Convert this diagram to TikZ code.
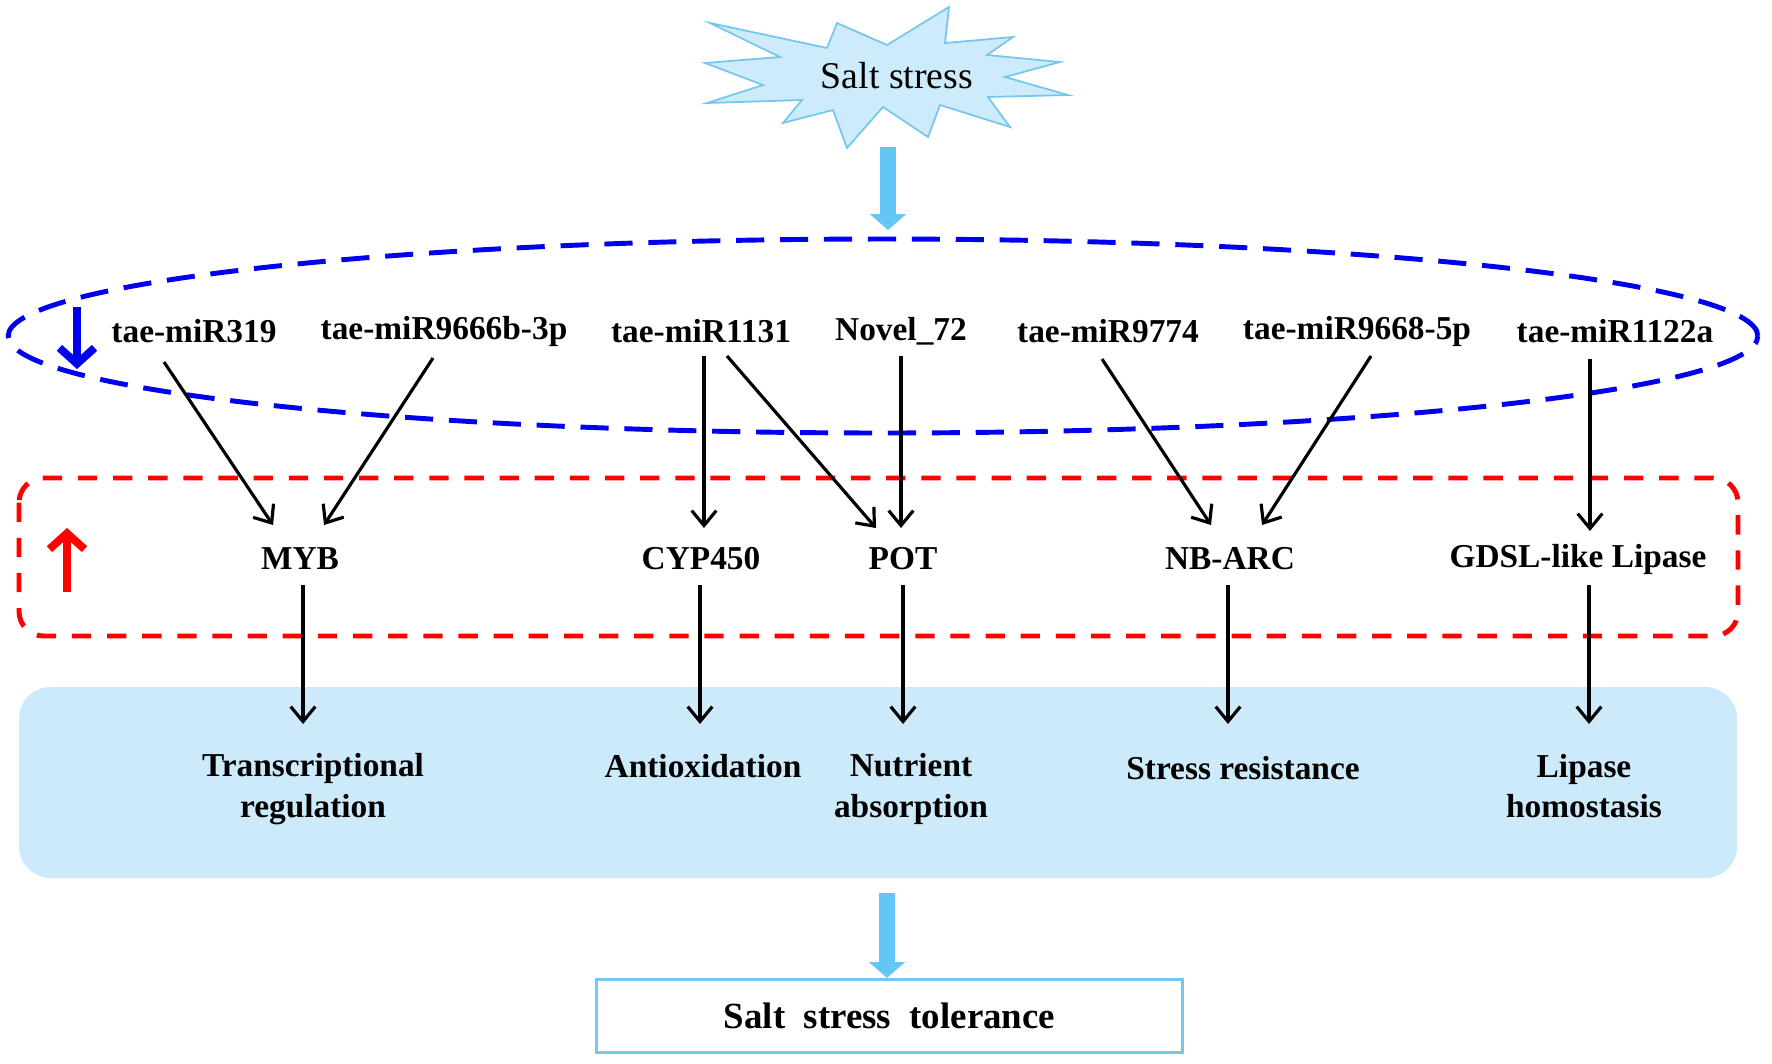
\documentclass[tikz,border=0pt]{standalone}
\usepackage{fontspec}
\setmainfont{Liberation Serif}
\usetikzlibrary{arrows.meta,calc}
\definecolor{starfill}{HTML}{CDEBFA}
\definecolor{starline}{HTML}{74C8F0}
\definecolor{bigarrow}{HTML}{63C6F6}
\definecolor{panelc}{HTML}{CCEAF9}
\definecolor{dblue}{HTML}{0000F0}
\definecolor{dred}{HTML}{FF0000}
\begin{document}
\begin{tikzpicture}[x=0.02cm,y=-0.02cm,
 lbl/.style={font=\fontsize{19}{22}\selectfont\bfseries, inner sep=0pt},
 fn/.style={font=\fontsize{19}{23}\selectfont\bfseries, align=center, inner sep=0pt},
 arr/.style={line width=1.8pt, -{Straight Barb[length=8.5pt,width=14pt]}},
 fat/.style={line width=9.5pt, draw=bigarrow, -{Triangle[length=9pt,width=20pt]}},
 dashblue/.style={draw=dblue, line width=2.8pt, dash pattern=on 16pt off 9pt},
 dashred/.style={draw=dred, line width=2.8pt, dash pattern=on 11pt off 9pt},
]
\useasboundingbox[fill=white] (0,0) rectangle (1772,1063);

% starburst
\draw[fill=starfill, draw=starline, line width=1pt]
 (710,23)--(827,48)--(837,23)--(887,45)--(949,7)--(945,43)--(1013,37)--(987,55)--(1060,62)--(1005,77)--(1068,95)--(988,97)--(1010,127)--(940,105)--(928,137)--(883,107)--(847,148)--(833,110)--(783,123)--(802,100)--(707,103)--(763,85)--(705,63)--(780,57)--cycle;
\node[font=\fontsize{21.5}{24}\selectfont, inner sep=0pt] (salt) at (897,76) {Salt stress};
\coordinate (s1) at (888,147);
\coordinate (s2) at (888,230);
\draw[fat] (s1) -- (s2);

% blue dashed ellipse
\draw[dashblue] (883,336) ellipse [x radius=17.5cm, y radius=1.94cm];
\coordinate (bd1) at (77,307);
\coordinate (bd2) at (77,369);
\draw[draw=dblue, line width=4.5pt, -{Straight Barb[length=9pt,width=20pt]}] (bd1) -- (bd2);

% red dashed box
\draw[dashred, rounded corners=14pt] (19,478) rectangle (1738,636);
\coordinate (ru1) at (67,592);
\coordinate (ru2) at (67,528);
\draw[draw=dred, line width=4.5pt, -{Straight Barb[length=9pt,width=20pt]}] (ru1) -- (ru2);

% panel
\fill[panelc, rounded corners=18pt] (19,687) rectangle (1737,878);

% miRNA labels
\node[lbl] (m319) at (194,331) {tae-miR319};
\node[lbl] (m9666) at (444,331) {tae-miR9666b-3p};
\node[lbl] (m1131) at (701,331) {tae-miR1131};
\node[lbl] (n72) at (901,331) {Novel\_72};
\node[lbl] (m9774) at (1108,331) {tae-miR9774};
\node[lbl] (m9668) at (1357,331) {tae-miR9668-5p};
\node[lbl] (m1122) at (1615,331) {tae-miR1122a};

% targets
\node[lbl] (myb) at (300,559) {MYB};
\node[lbl] (cyp) at (701,559) {CYP450};
\node[lbl] (pot) at (903,559) {POT};
\node[lbl] (nb) at (1230,559) {NB-ARC};
\node[lbl] (gdsl) at (1578,559) {GDSL-like Lipase};

% functions
\node[fn] (f1) at (313,789) {Transcriptional\\regulation};
\node[fn] (f2) at (703,766) {Antioxidation};
\node[fn] (f3) at (911,789) {Nutrient\\absorption};
\node[fn] (f4) at (1243,768) {Stress resistance};
\node[fn] (f5) at (1584,786) {Lipase\\homostasis};

% miRNA -> targets
\draw[arr] ($(m319)+(-30,31)$) -- ($(myb)+(-27,-34)$);
\draw[arr] ($(m9666)+(-11,27)$) -- ($(myb)+(24,-34)$);
\draw[arr] ($(m1131)+(3,25)$) -- ($(cyp)+(3,-31)$);
\draw[arr] ($(m1131)+(26,25)$) -- ($(pot)+(-27,-31)$);
\draw[arr] ($(n72)+(0,25)$) -- ($(pot)+(-2,-31)$);
\draw[arr] ($(m9774)+(-6,28)$) -- ($(nb)+(-19,-34)$);
\draw[arr] ($(m9668)+(14,25)$) -- ($(nb)+(32,-34)$);
\draw[arr] ($(m1122)+(-25,28)$) -- ($(gdsl)+(12,-28)$);

% targets -> functions
\draw[arr] ($(myb)+(3,26)$) -- ($(f1)+(-10,-65)$);
\draw[arr] ($(cyp)+(-1,26)$) -- ($(f2)+(-3,-42)$);
\draw[arr] ($(pot)+(0,26)$) -- ($(f3)+(-8,-65)$);
\draw[arr] ($(nb)+(-2,26)$) -- ($(f4)+(-15,-44)$);
\draw[arr] ($(gdsl)+(11,26)$) -- ($(f5)+(5,-62)$);

% tolerance
\node[draw=starline, line width=1.8pt, minimum width=11.72cm, minimum height=1.46cm,
      font=\fontsize{21}{24}\selectfont\bfseries] (tol) at (889.5,1016) {Salt\ \ stress\ \ tolerance};
\coordinate (t1) at (887,893);
\draw[fat] (t1) -- (t1 |- tol.north);
\end{tikzpicture}
\end{document}
